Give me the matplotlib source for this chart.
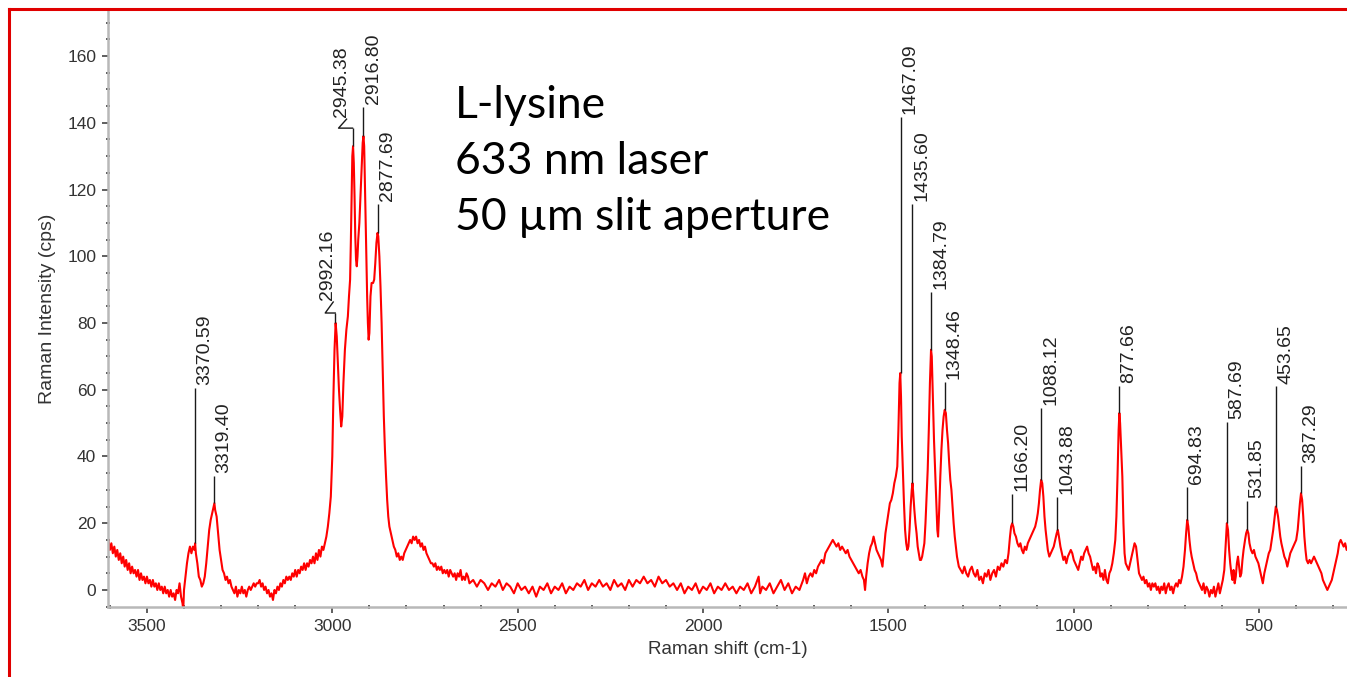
import numpy as np
import matplotlib.pyplot as plt
from matplotlib.lines import Line2D
from matplotlib.ticker import MultipleLocator

plt.rcParams['font.family'] = ['Liberation Sans', 'DejaVu Sans']

# Spectrum: (Raman shift cm-1, intensity cps)
nh_stretch = [
    (3604, 15), (3600, 12), (3596, 14), (3592, 11), (3588, 13), (3584, 10), (3580, 12), (3576, 9),
    (3572, 11), (3568, 8), (3564, 10), (3560, 7), (3556, 9), (3552, 6), (3548, 8), (3544, 5),
    (3540, 7), (3536, 5), (3532, 6), (3528, 4), (3524, 6), (3520, 3), (3516, 5), (3512, 3),
    (3508, 4), (3504, 2), (3500, 4), (3496, 2), (3492, 3), (3488, 1), (3484, 3), (3480, 1),
    (3476, 2), (3472, 0), (3468, 2), (3464, 0), (3460, 1), (3456, -1), (3452, 1), (3448, -1),
    (3444, 0), (3440, -2), (3436, 0), (3432, -2), (3428, -1), (3424, -3), (3420, 0), (3416, -1),
    (3412, 2), (3408, -2), (3404, -4), (3402, -6), (3400, 0), (3396, 4), (3392, 8), (3388, 11),
    (3384, 13), (3380, 11), (3376, 13), (3372, 12), (3370, 14), (3368, 11), (3364, 8), (3360, 4),
    (3356, 3), (3352, 1), (3348, 2), (3344, 4), (3340, 8), (3336, 13), (3332, 18), (3328, 21),
    (3324, 23), (3320, 25), (3318, 26), (3316, 24), (3312, 22), (3308, 17), (3304, 12), (3300, 9),
    (3296, 6), (3292, 5), (3288, 3), (3284, 4), (3280, 2), (3276, 3), (3272, 1), (3268, 0),
    (3264, -1), (3260, 1), (3256, -2), (3252, 0), (3248, -1), (3244, 1), (3240, -1), (3236, 0),
    (3232, -2), (3228, 0), (3224, 1), (3220, 0), (3216, 1), (3212, 2), (3208, 1), (3204, 2),
    (3200, 2), (3196, 3), (3192, 1), (3188, 2), (3184, 0), (3180, 1), (3176, -1), (3172, 0),
    (3168, -2), (3164, -1), (3160, -3), (3156, 0), (3152, -1), (3148, 1), (3144, 0), (3140, 2),
    (3136, 1), (3132, 3), (3128, 2), (3124, 4), (3120, 3), (3116, 4), (3112, 3), (3108, 5),
    (3104, 4), (3100, 6), (3096, 4), (3092, 6), (3088, 5), (3084, 7), (3080, 6), (3076, 8),
    (3072, 6), (3068, 8), (3064, 7), (3060, 9), (3056, 8), (3052, 10), (3048, 8), (3044, 11),
    (3040, 9), (3036, 12), (3032, 10), (3028, 13), (3024, 12),
]

ch_stretch = [
    (3020, 14), (3016, 16), (3012, 19), (3008, 23), (3004, 28), (3000, 40), (2997, 58), (2994, 72),
    (2991, 80), (2988, 76), (2985, 68), (2982, 60), (2979, 54), (2976, 49), (2973, 52), (2970, 62),
    (2966, 72), (2962, 78), (2958, 82), (2955, 88), (2952, 93), (2950, 104), (2948, 118), (2946, 130),
    (2944, 133), (2942, 128), (2940, 118), (2938, 106), (2936, 99), (2934, 97), (2932, 100), (2930, 105),
    (2927, 110), (2924, 118), (2921, 126), (2918, 134), (2916, 136), (2914, 133), (2912, 122), (2910, 110),
    (2908, 100), (2906, 88), (2904, 80), (2902, 75), (2900, 77), (2897, 88), (2894, 92), (2890, 92),
    (2887, 93), (2884, 98), (2881, 104), (2878, 107), (2876, 106), (2873, 100), (2870, 91), (2867, 80),
    (2864, 66), (2861, 52), (2858, 42), (2855, 34), (2852, 27), (2849, 22), (2846, 19), (2842, 17),
    (2838, 15), (2834, 13), (2830, 12), (2826, 10), (2822, 11), (2818, 9), (2814, 10), (2810, 9),
    (2806, 11), (2802, 12), (2798, 13), (2794, 14), (2790, 15), (2786, 14), (2782, 16), (2778, 15),
    (2774, 16), (2770, 14), (2766, 15), (2762, 13), (2758, 14), (2754, 12), (2750, 13), (2746, 11),
    (2742, 10), (2738, 9), (2734, 8), (2730, 8), (2726, 7), (2722, 8), (2718, 6), (2714, 7),
    (2710, 6), (2706, 7), (2702, 5), (2698, 6), (2694, 5), (2690, 6), (2686, 4), (2682, 6),
    (2678, 5), (2674, 4), (2670, 5), (2666, 3), (2662, 5), (2658, 4), (2654, 6), (2650, 3),
    (2646, 4), (2642, 3), (2638, 5), (2634, 4), (2630, 2),
]

quiet_region = [
    (2620, 3), (2610, 1), (2600, 3), (2590, 2), (2580, 0), (2570, 2), (2560, 1), (2550, 3),
    (2540, 0), (2530, 2), (2520, 1), (2510, -1), (2500, 2), (2490, 0), (2480, 1), (2470, -1),
    (2460, 1), (2450, -2), (2440, 1), (2430, 0), (2420, 2), (2410, -1), (2400, 1), (2390, 0),
    (2380, 2), (2370, -1), (2360, 1), (2350, 0), (2340, 2), (2330, 1), (2320, 3), (2310, 0),
    (2300, 2), (2290, 1), (2280, 3), (2270, 1), (2260, 2), (2250, 0), (2240, 3), (2230, 1),
    (2220, 2), (2210, 0), (2200, 3), (2190, 1), (2180, 3), (2170, 2), (2160, 4), (2150, 2),
    (2140, 3), (2130, 1), (2120, 4), (2110, 2), (2100, 3), (2090, 1), (2080, 2), (2070, 0),
    (2060, 2), (2050, -1), (2040, 1), (2030, 0), (2020, 2), (2010, -1), (2000, 1), (1990, 0),
    (1980, 2), (1970, -1), (1960, 1), (1950, 0), (1940, 2), (1930, 0), (1920, 1), (1910, -1),
    (1900, 1), (1890, 0), (1880, 2), (1870, -1), (1860, 1), (1850, 4), (1846, -1), (1840, 1),
    (1830, 0), (1820, 2), (1810, -1), (1800, 1), (1790, 3), (1780, 0), (1770, 2), (1760, -1),
    (1750, 1), (1740, 0),
]

fingerprint = [
    (1730, 3), (1725, 5), (1720, 2), (1715, 4), (1710, 5), (1705, 4), (1700, 6), (1695, 5),
    (1690, 7), (1685, 8), (1680, 9), (1675, 8), (1670, 11), (1665, 12), (1660, 13), (1655, 14),
    (1650, 15), (1645, 14), (1640, 13), (1635, 14), (1630, 12), (1625, 13), (1620, 12), (1615, 11),
    (1610, 12), (1605, 10), (1600, 9), (1595, 8), (1590, 7), (1585, 6), (1580, 5), (1575, 6),
    (1570, 4), (1566, 3), (1563, 0), (1560, 4), (1556, 8), (1552, 11), (1548, 13), (1544, 14),
    (1540, 16), (1536, 14), (1532, 12), (1528, 11), (1524, 10), (1520, 9), (1516, 7), (1512, 12),
    (1508, 17), (1504, 20), (1500, 23), (1496, 26), (1492, 27), (1488, 29), (1484, 32), (1480, 34),
    (1476, 37), (1473, 48), (1470, 62), (1468, 65), (1466, 58), (1464, 46), (1461, 36), (1458, 26),
    (1455, 18), (1452, 14), (1449, 12), (1446, 13), (1443, 18), (1440, 25), (1437, 30), (1435, 32),
    (1433, 29), (1430, 24), (1427, 20), (1424, 17), (1421, 13), (1418, 11), (1415, 9), (1412, 9),
    (1409, 10), (1406, 12), (1403, 14), (1400, 20), (1397, 28), (1394, 36), (1391, 48), (1388, 62),
    (1385, 72), (1383, 70), (1380, 58), (1377, 45), (1374, 36), (1371, 27), (1368, 18), (1366, 16),
    (1363, 24), (1360, 34), (1357, 42), (1354, 48), (1351, 52), (1348, 54), (1345, 53), (1342, 48),
    (1339, 44), (1336, 38), (1333, 33), (1330, 30), (1327, 25), (1324, 20), (1321, 16), (1318, 13),
    (1315, 10), (1310, 7), (1305, 6), (1300, 5), (1295, 7), (1290, 5), (1285, 4), (1280, 6),
    (1275, 7), (1270, 5), (1265, 4), (1260, 6), (1255, 3), (1250, 4), (1245, 2), (1240, 5),
    (1235, 4), (1230, 6), (1225, 3), (1220, 5), (1215, 6), (1210, 4), (1205, 7), (1200, 6),
    (1195, 8), (1190, 7), (1185, 9), (1180, 8), (1176, 11), (1172, 16), (1169, 19), (1166, 20),
    (1163, 19), (1160, 17), (1156, 16), (1152, 14), (1148, 13), (1144, 14), (1140, 12), (1136, 11),
    (1132, 13), (1128, 12), (1124, 14), (1120, 15), (1116, 16), (1112, 17), (1108, 18), (1104, 19),
    (1100, 21), (1097, 23), (1094, 26), (1091, 30), (1088, 33), (1085, 32), (1082, 28), (1079, 22),
    (1076, 18), (1073, 15), (1070, 12), (1066, 10), (1062, 11), (1058, 12), (1054, 13), (1050, 15),
    (1046, 17), (1043, 18), (1040, 16), (1036, 13), (1032, 11), (1028, 9), (1024, 10), (1020, 8),
    (1016, 10), (1012, 11), (1008, 12), (1004, 11), (1000, 9), (996, 8), (992, 7), (988, 6),
    (984, 8), (980, 10), (976, 9), (972, 11), (968, 12), (964, 13), (960, 11), (956, 10),
    (952, 8), (948, 6), (944, 7), (940, 5), (936, 8), (932, 7), (928, 4), (924, 5),
    (920, 3), (916, 6), (912, 3), (908, 2), (904, 5), (900, 6), (896, 8), (892, 11),
    (888, 15), (885, 22), (882, 34), (879, 48), (877, 53), (875, 50), (872, 42), (869, 34),
    (866, 20), (863, 11), (860, 8), (856, 7), (852, 6), (848, 8), (844, 10), (840, 12),
    (836, 14), (832, 13), (828, 9), (824, 5), (820, 4), (816, 3), (812, 4), (808, 2),
    (804, 3), (800, 1), (796, 2), (792, 0), (788, 2), (784, 1), (780, 2), (776, 0),
    (772, 1), (768, -1), (764, 1), (760, 0), (756, 2), (752, -1), (748, 1), (744, 2),
    (740, 0), (736, 1), (732, -1), (728, 1), (724, 2), (720, 1), (716, 3), (712, 2),
    (708, 4), (704, 7), (700, 12), (697, 17), (694, 21), (691, 19), (688, 15), (685, 12),
    (682, 10), (678, 8), (674, 6), (670, 5), (666, 3), (662, 2), (658, 1), (654, 0),
    (650, 2), (646, -1), (642, 1), (638, 0), (634, -2), (630, 0), (626, -1), (622, 1),
    (618, -2), (614, 0), (610, 2), (606, -1), (602, 1), (598, 3), (594, 6), (590, 14),
    (587, 20), (584, 18), (581, 12), (578, 8), (575, 5), (572, 3), (569, 6), (566, 2),
    (563, 4), (560, 8), (557, 10), (554, 7), (551, 4), (548, 5), (545, 9), (542, 12),
    (538, 15), (535, 17), (532, 18), (529, 17), (526, 14), (522, 12), (518, 11), (514, 12),
    (510, 10), (506, 9), (502, 8), (498, 6), (494, 4), (490, 2), (486, 5), (482, 7),
    (478, 9), (474, 11), (470, 12), (466, 15), (462, 18), (458, 22), (455, 25), (452, 24),
    (449, 22), (446, 19), (443, 16), (440, 14), (436, 12), (432, 10), (428, 9), (424, 7),
    (420, 9), (416, 11), (412, 12), (408, 13), (404, 14), (400, 15), (396, 18), (393, 22),
    (390, 26), (387, 29), (384, 27), (381, 22), (378, 16), (375, 12), (372, 9), (368, 8),
    (364, 9), (360, 8), (356, 9), (352, 10), (348, 9), (344, 8), (340, 7), (336, 6),
    (332, 5), (328, 3), (324, 2), (320, 1), (316, 0), (312, 1), (308, 2), (304, 3),
    (300, 5), (296, 7), (292, 9), (288, 11), (284, 14), (280, 15), (276, 14), (272, 13),
    (268, 14), (264, 12), (260, 13),
]

# Labelled peaks: position, intensity at the peak, top of the marker line
peak_shift = [3370.59, 3319.40, 2992.16, 2945.38, 2916.80, 2877.69, 1467.09, 1435.60, 1384.79,
              1348.46, 1166.20, 1088.12, 1043.88, 877.66, 694.83, 587.69, 531.85, 453.65, 387.29]
peak_height = [14, 26, 80, 133, 136, 107, 65, 32, 72, 54, 20, 33, 18, 53, 21, 20, 18, 25, 29]
marker_top = [60.5, 34.2, 83, 138.4, 144.7, 115.6, 141.7, 115.6, 89.3, 62.3, 28.8, 54.5, 28,
              61.2, 31, 50.3, 26.7, 61, 37.2]

info_lines = ["L-lysine", "633 nm laser", "50 \u00b5m slit aperture"]

# labels moved to the left with a bent leader (pixel offsets from the marker top)
moved_labels = {2992.16: (-16, 13), 2945.38: (-20, 11)}

spectrum = np.array(nh_stretch + ch_stretch + quiet_region + fingerprint, dtype=float)

W, H = 1347, 677
fig = plt.figure(figsize=(W / 100, H / 100), dpi=100)
ax = fig.add_axes([108 / W, 70 / H, (W - 108) / W, 597 / H])

ax.plot(spectrum[:, 0], spectrum[:, 1], color='#ff0000', lw=1.5, zorder=2)
ax.set_xlim(3605, 263)
ax.set_ylim(-5.1, 173.8)

# axis look
for s in ['top', 'right']:
    ax.spines[s].set_visible(False)
for s in ['left', 'bottom']:
    ax.spines[s].set_color('#b8b8b8')
    ax.spines[s].set_linewidth(1.8)
ax.xaxis.set_major_locator(MultipleLocator(500))
ax.xaxis.set_minor_locator(MultipleLocator(100))
ax.yaxis.set_major_locator(MultipleLocator(20))
ax.yaxis.set_minor_locator(MultipleLocator(5))
ax.tick_params(which='major', direction='out', length=4, width=1.1, color='#333333',
               labelsize=12.5, labelcolor='#333333', pad=4.5)
ax.tick_params(which='minor', direction='inout', length=2.5, width=1.1, color='#333333')
ax.set_xlabel('Raman shift (cm-1)', fontsize=13.5, color='#333333', labelpad=5)
ax.set_ylabel('Raman Intensity (cps)', fontsize=14, color='#333333', labelpad=8)

# peak markers and labels
ax.vlines(peak_shift, peak_height, marker_top, color='#1a1a1a', lw=1.0, zorder=3)
fig.canvas.draw()
for p, top in zip(peak_shift, marker_top):
    name = f"{p:.2f}"
    if p in moved_labels:
        dx, dy = moved_labels[p]
        x0, y0 = ax.transData.transform((p, top))
        pts = [(x0, y0), (x0 + dx + 6, y0), (x0 + dx + 14, y0 + dy - 2)]
        pts = ax.transData.inverted().transform(pts)
        ax.plot(pts[:, 0], pts[:, 1], color='#1a1a1a', lw=1.0, zorder=3)
        off = (dx * 0.72, dy * 0.72)
    else:
        off = (1, 2)
    ax.annotate(name, xy=(p, top), xytext=off, textcoords='offset points',
                rotation=90, ha='left', va='bottom', fontsize=14, color='#222222')

# sample note
for i, line in enumerate(info_lines):
    fig.text(455 / W, 1 - (118 + 56 * i) / H, line, fontsize=32,
             family=['Lato', 'DejaVu Sans'], va='baseline', ha='left', color='black')

# red frame around the picture (cut off at right and bottom)
fig.add_artist(Line2D([8.5 / W, 8.5 / W], [0, 1 - 8.5 / H], color='#e00000', lw=2.2,
                      transform=fig.transFigure))
fig.add_artist(Line2D([8.5 / W, 1], [1 - 8.5 / H, 1 - 8.5 / H], color='#e00000', lw=2.2,
                      transform=fig.transFigure))

fig.savefig('out.png', dpi=100)
